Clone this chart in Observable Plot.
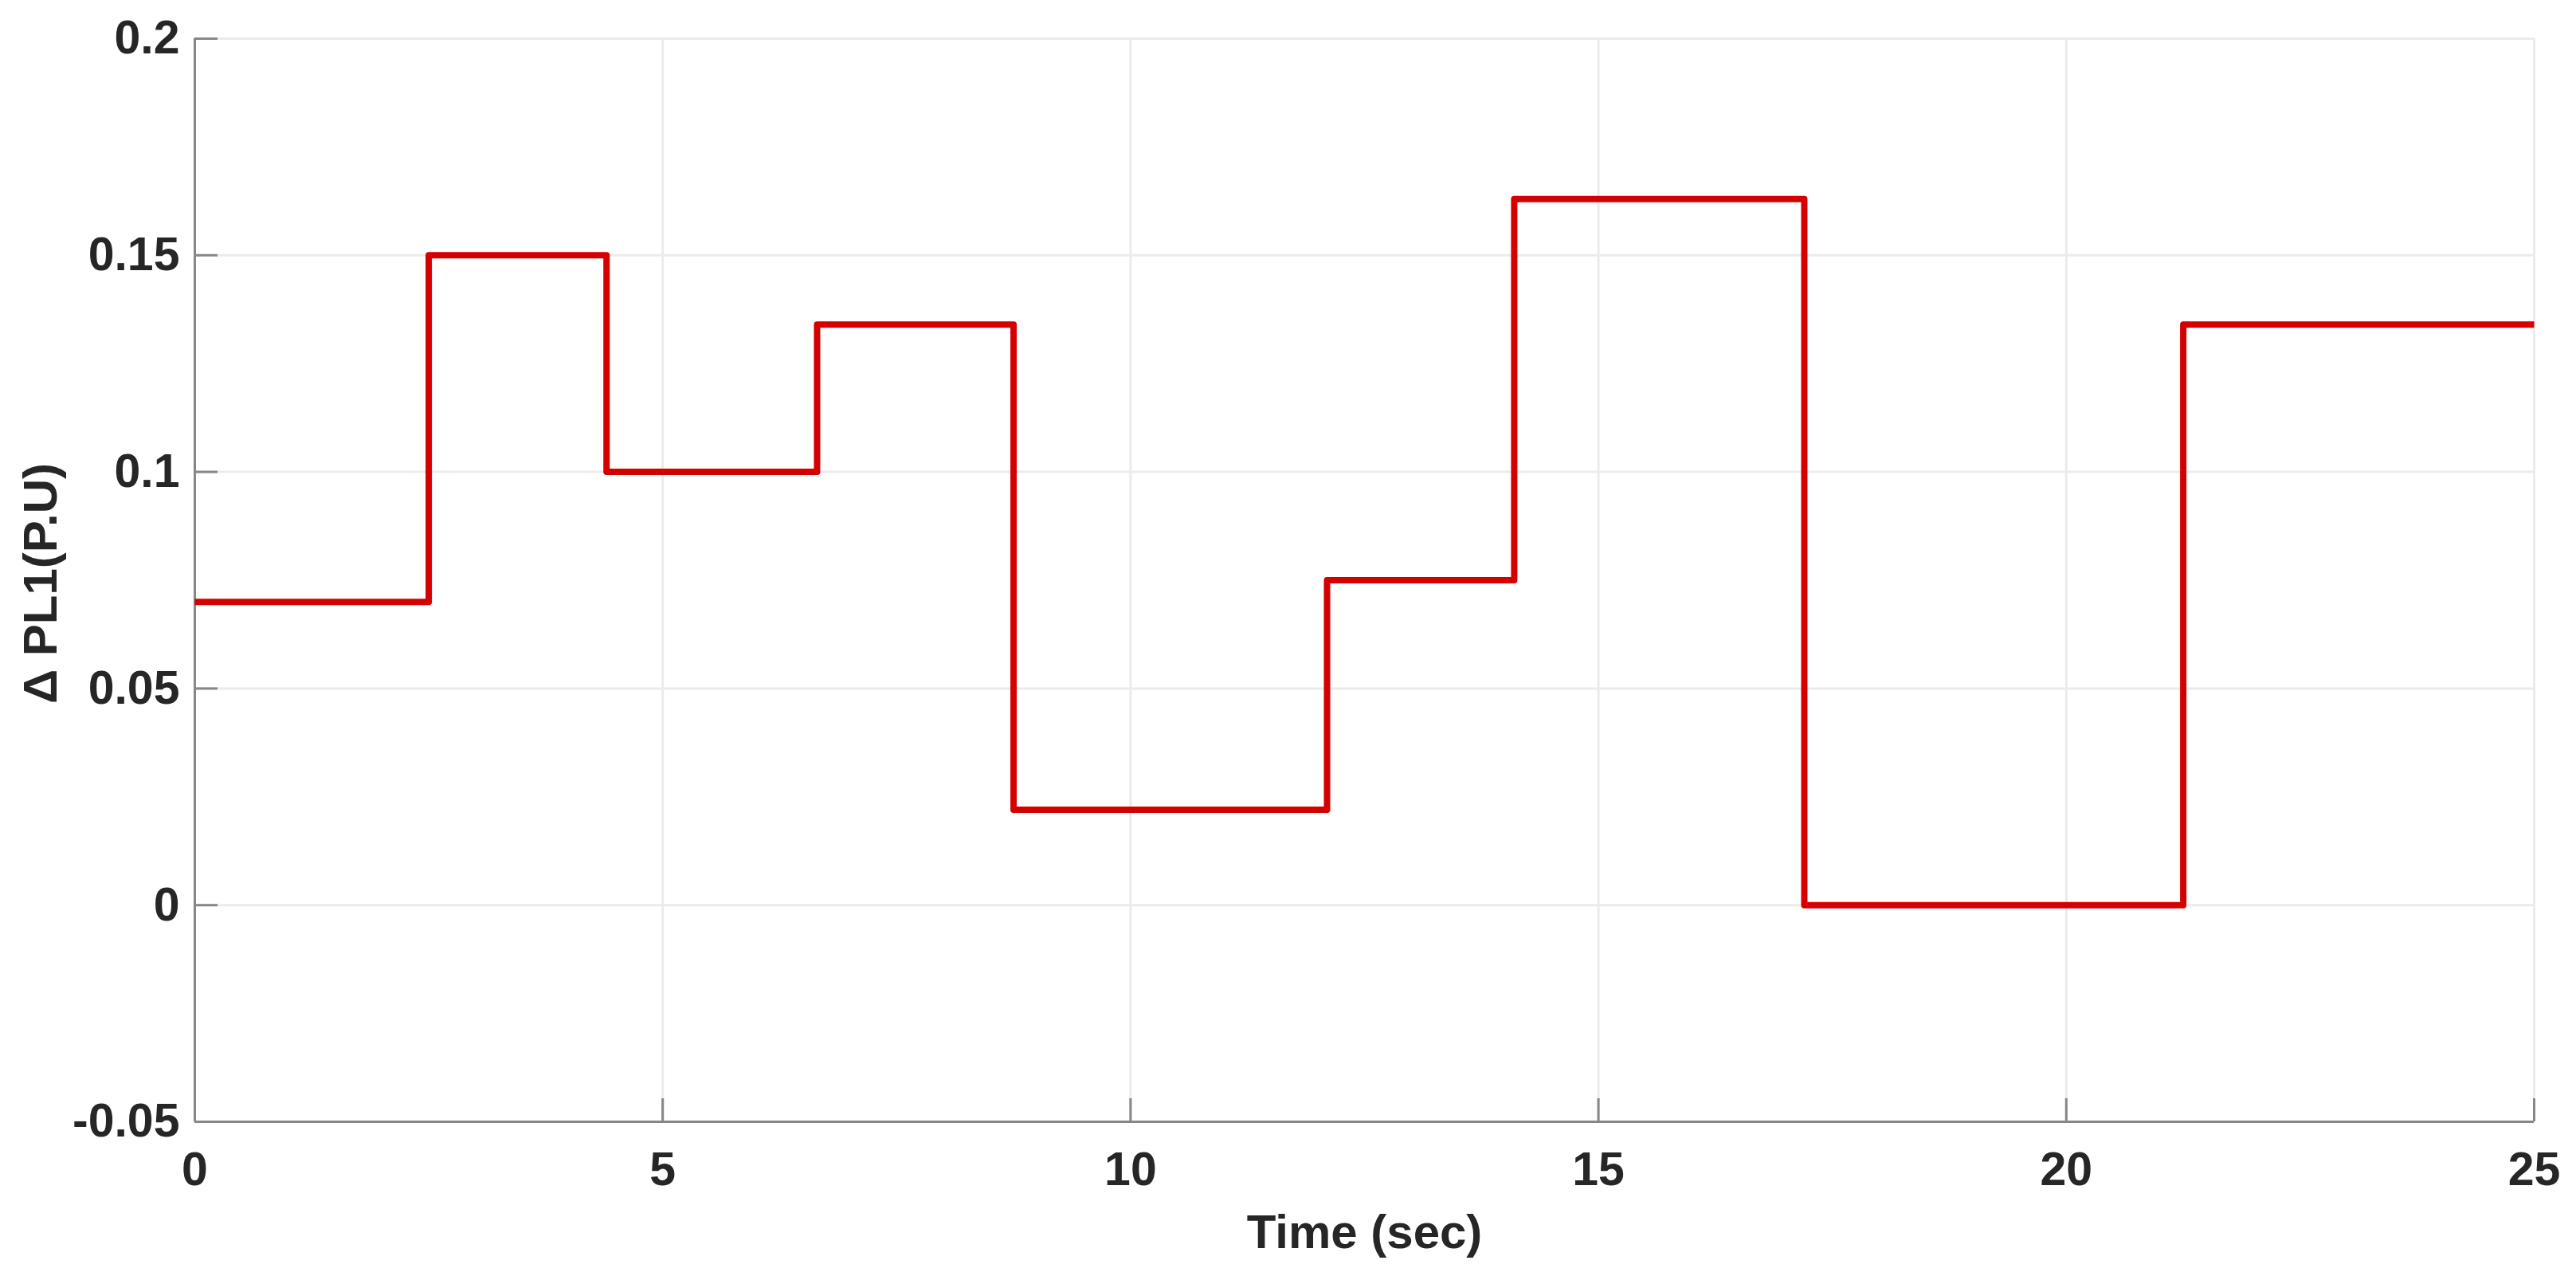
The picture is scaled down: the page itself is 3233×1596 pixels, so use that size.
<!DOCTYPE html>
<html>
<head>
<meta charset="utf-8">
<script src="https://cdn.jsdelivr.net/npm/d3@7"></script>
<script src="https://cdn.jsdelivr.net/npm/@observablehq/plot@0.6"></script>
<style>
  html, body { margin: 0; padding: 0; background: #ffffff; }
  #chart svg { display: block; }
</style>
</head>
<body>
<div id="chart"></div>
<script>
// Step change times (sec) and ΔPL1 values (P.U)
const times  = [0, 2.5, 4.4, 6.65, 8.75, 12.1, 14.1, 17.2, 21.25, 25];
const values = [0.07, 0.15, 0.10, 0.134, 0.022, 0.075, 0.163, 0.0, 0.134, 0.134];

const xTicks = [0, 5, 10, 15, 20, 25];
const yTicks = [-0.05, 0, 0.05, 0.1, 0.15, 0.2];
const yTickLabels = ["-0.05", "0", "0.05", "0.1", "0.15", "0.2"];
const xLabel = "Time (sec)";
const yLabel = "\u0394 PL1(P.U)";

const data = times.map((t, i) => ({t, v: values[i]}));

const font = "'Liberation Sans', Arial, Helvetica, sans-serif";
const axisColor = "#878787";
const textColor = "#262626";

const chart = Plot.plot({
  width: 3233,
  height: 1596,
  marginLeft: 244,
  marginRight: 53,
  marginTop: 48,
  marginBottom: 189,
  style: {background: "#ffffff", fontFamily: font, fontWeight: "bold", color: textColor},
  x: {domain: [0, 25]},
  y: {domain: [-0.05, 0.2]},
  marks: [
    Plot.gridX(xTicks, {stroke: "#ebebeb", strokeOpacity: 1, strokeWidth: 3}),
    Plot.gridY(yTicks, {stroke: "#ebebeb", strokeOpacity: 1, strokeWidth: 3}),
    Plot.ruleX([0], {stroke: axisColor, strokeWidth: 3}),
    Plot.ruleY([-0.05], {stroke: axisColor, strokeWidth: 3}),
    // inward ticks
    Plot.axisX(xTicks, {tickSize: 29, dy: -29, fill: "none", stroke: axisColor, strokeWidth: 3, label: null}),
    Plot.axisY(yTicks, {tickSize: 29, dx: 29, fill: "none", stroke: axisColor, strokeWidth: 3, label: null}),
    // tick labels
    Plot.axisX(xTicks, {tickSize: 0, tickPadding: 38, fontSize: 59, fontWeight: "bold", fill: textColor,
      tickFormat: d => String(d), label: null}),
    Plot.axisY(yTicks, {tickSize: 0, tickPadding: 19, fontSize: 59, fontWeight: "bold", fill: textColor,
      tickFormat: d => yTickLabels[yTicks.indexOf(d)], label: null}),
    Plot.line(data, {x: "t", y: "v", curve: "step-after", stroke: "#d50000", strokeWidth: 8,
      strokeLinejoin: "round", strokeLinecap: "butt"}),
    Plot.text([xLabel], {frameAnchor: "bottom", dy: 158, lineAnchor: "bottom", fontSize: 60,
      fontWeight: "bold", fill: textColor}),
    Plot.text([yLabel], {frameAnchor: "left", dx: -174, dy: 155, rotate: -90, lineAnchor: "bottom",
      fontSize: 60, fontWeight: "bold", fill: textColor})
  ]
});
document.getElementById("chart").appendChild(chart);
</script>
</body>
</html>
